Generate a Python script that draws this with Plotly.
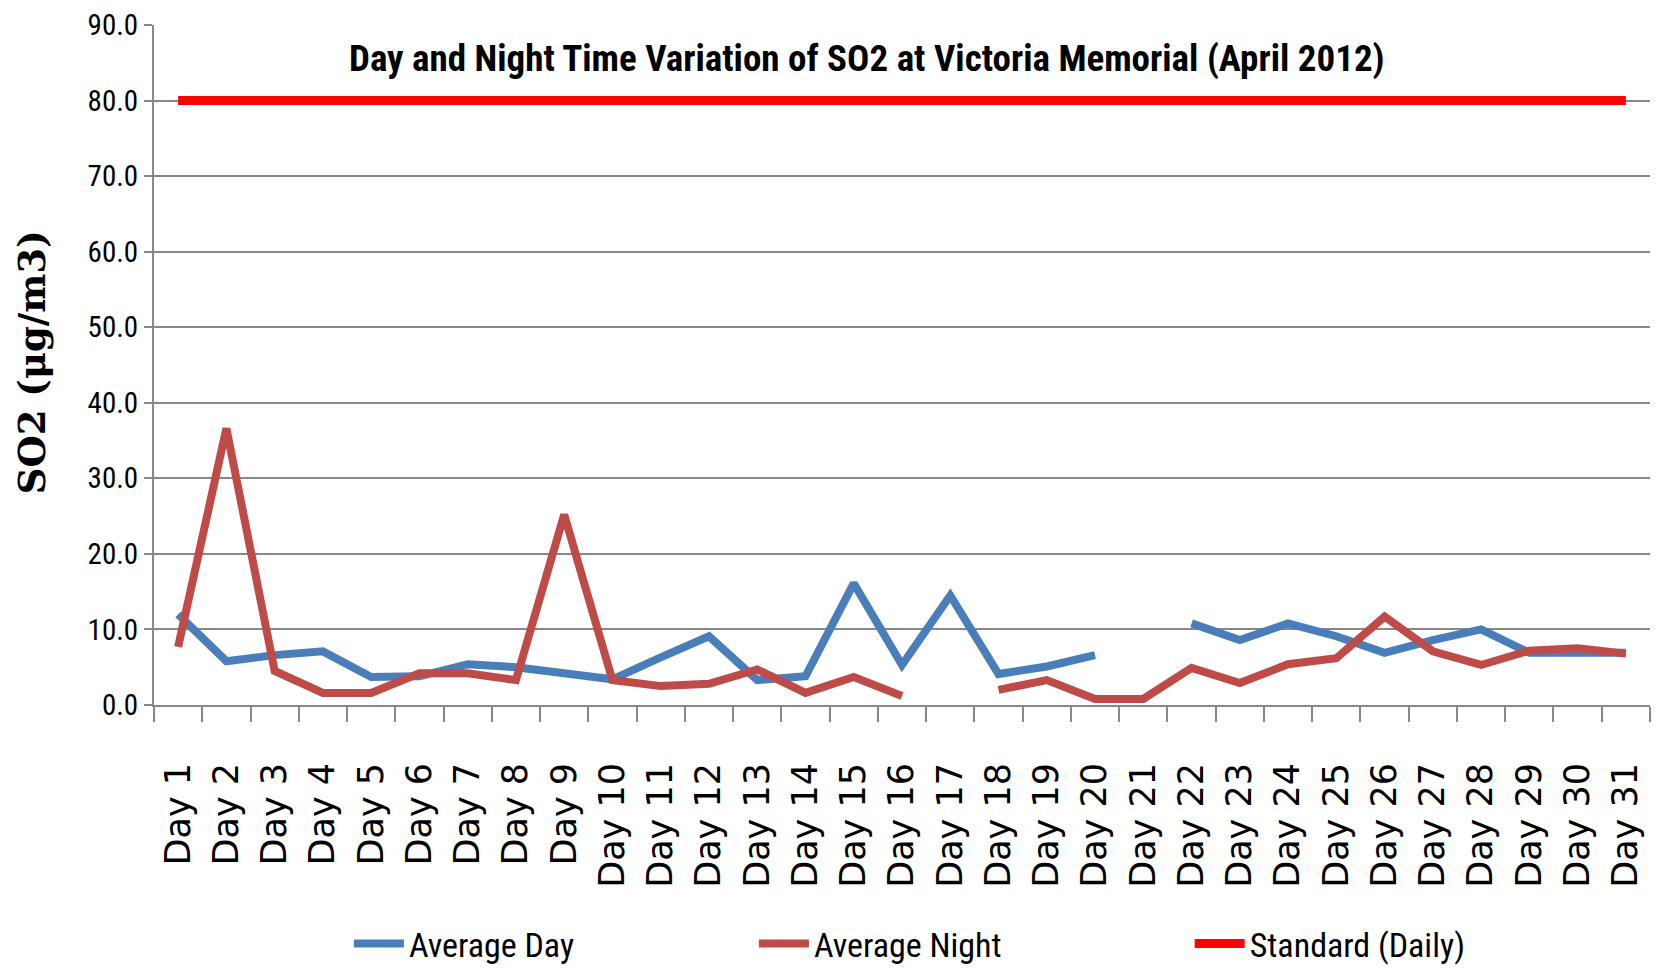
import plotly.graph_objects as go

days = [f"Day {i}" for i in range(1, 32)]

average_day = [12.0, 5.8, 6.6, 7.1, 3.7, 3.8, 5.4, 5.0, 4.2, 3.4,
               6.3, 9.1, 3.3, 3.8, 16.1, 5.3, 14.5, 4.1, 5.1, 6.6,
               None, 10.8, 8.6, 10.8, 9.1, 6.9, 8.6, 10.0, 6.9, 6.9, 6.9]

average_night = [7.7, 36.6, 4.5, 1.6, 1.6, 4.2, 4.2, 3.3, 25.2, 3.3,
                 2.5, 2.8, 4.7, 1.6, 3.7, 1.2, None, 2.0, 3.3, 0.8,
                 0.8, 4.9, 2.9, 5.4, 6.2, 11.7, 7.1, 5.3, 7.2, 7.5, 6.8]

standard_daily = [80.0] * 31

y_ticks = [0, 10, 20, 30, 40, 50, 60, 70, 80, 90]

NARROW = "Liberation Sans Narrow, Arial Narrow, Roboto Condensed, sans-serif"

fig = go.Figure()
fig.add_trace(go.Scatter(x=days, y=average_day, name="Average Day", mode="lines",
                         line=dict(color="#4A7EBB", width=8), connectgaps=False,
                         legend="legend"))
fig.add_trace(go.Scatter(x=days, y=average_night, name="Average Night", mode="lines",
                         line=dict(color="#BE4B48", width=8), connectgaps=False,
                         legend="legend2"))
fig.add_trace(go.Scatter(x=days, y=standard_daily, name="Standard (Daily)", mode="lines",
                         line=dict(color="#FF0000", width=9), legend="legend3"))

leg_common = dict(orientation="h", y=-0.3515, yanchor="middle", xanchor="left",
                  font=dict(family=NARROW, size=34, color="black"),
                  itemwidth=50, bgcolor="rgba(0,0,0,0)")

fig.update_layout(
    width=1660, height=971,
    margin=dict(l=146, r=18, t=17, b=274, autoexpand=False),
    plot_bgcolor="white", paper_bgcolor="white",
    showlegend=True,
    legend=dict(x=0.1303, **leg_common),
    legend2=dict(x=0.401, **leg_common),
    legend3=dict(x=0.6923, **leg_common),
    annotations=[
        dict(text="<b>Day and Night Time Variation of SO2 at Victoria Memorial (April 2012)</b>",
             xref="paper", yref="paper", x=0.4766, y=0.951, xanchor="center", yanchor="middle",
             showarrow=False, font=dict(family=NARROW, size=37, color="black")),
        dict(text="<b>SO2 (μg/m3)</b>", xref="paper", yref="paper", x=-0.0816, y=0.504,
             xanchor="center", yanchor="middle", textangle=-90, showarrow=False,
             font=dict(family="DejaVu Serif, serif", size=37, color="black")),
    ],
)

fig.update_xaxes(
    type="category", range=[-0.5, 30.5], tickangle=-90, automargin=False,
    tickson="boundaries", ticks="outside", ticklen=15, tickwidth=2, tickcolor="#888888",
    showline=True, linecolor="#888888", linewidth=2, showgrid=False,
    ticklabelstandoff=42,
    tickfont=dict(family="DejaVu Sans, Verdana, sans-serif", size=35, color="black"),
)
fig.update_yaxes(
    range=[0, 90], tickvals=y_ticks, tickformat=".1f", automargin=False,
    ticklabeloverflow="allow",
    ticks="outside", ticklen=8, tickwidth=2, tickcolor="#888888",
    showline=True, linecolor="#888888", linewidth=2,
    showgrid=True, gridcolor="#888888", gridwidth=2, zeroline=False,
    tickfont=dict(family=NARROW, size=29, color="black"),
)

fig.write_html("out.html")
